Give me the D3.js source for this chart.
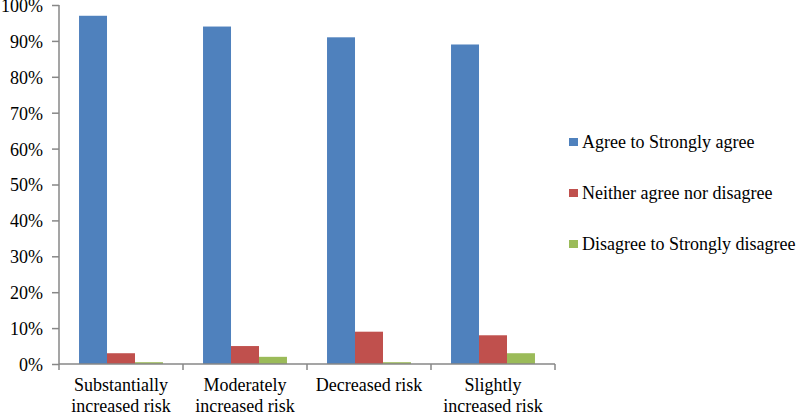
<!DOCTYPE html>
<html><head><meta charset="utf-8">
<script src="https://cdn.jsdelivr.net/npm/d3@7"></script>
</head><body style="margin:0;background:#fff"><svg id="c" width="800" height="416" style="display:block"></svg>
<script>
const categories = ["Substantially\nincreased risk","Moderately\nincreased risk","Decreased risk","Slightly\nincreased risk"];
const seriesNames = ["Agree to Strongly agree","Neither agree nor disagree","Disagree to Strongly disagree"];
const agree = [97, 94, 91, 89];
const neither = [3, 5, 9, 8];
const disagree = [0.5, 2, 0.5, 3];
const yTicks = [0,10,20,30,40,50,60,70,80,90,100];
const colors = ["#4F81BD","#C0504D","#9BBB59"];
const series = [agree, neither, disagree];

const FONT = "'Liberation Serif', serif";
const svg = d3.select("#c");
const L = 59, R = 555, T = 5, B = 364;
const x = d3.scaleBand().domain(categories).range([L, R]).paddingInner(0.323).paddingOuter(0.1615);
const xs = d3.scaleBand().domain(d3.range(series.length)).range([0, x.bandwidth()]);
const y = d3.scaleLinear().domain([0,100]).range([B, T]);

// bars
categories.forEach((c, i) => {
  series.forEach((s, j) => {
    svg.append("rect")
      .attr("x", x(c) + xs(j)).attr("width", xs.bandwidth())
      .attr("y", y(s[i])).attr("height", B - y(s[i]))
      .attr("fill", colors[j]);
  });
});

// y axis
const yAxis = d3.axisLeft(y).tickValues(yTicks).tickFormat(d => d + "%").tickSize(7).tickPadding(9);
const gy = svg.append("g").attr("transform", `translate(${L},0)`).call(yAxis);
gy.select(".domain").attr("stroke", "#878787").attr("stroke-width", 1.5).attr("d", `M0,${T}V${B}`);
gy.selectAll(".tick line").attr("stroke", "#878787").attr("stroke-width", 1.5);
gy.selectAll("text").attr("fill", "#000").attr("dy", "0.36em");

// x axis line and boundary ticks
const gx = svg.append("g");
gx.append("line").attr("x1", L).attr("x2", R).attr("y1", B).attr("y2", B).attr("stroke", "#878787").attr("stroke-width", 1.5);
const bounds = categories.map(c => x(c) - x.step() * x.paddingInner() / 2).concat([R]);
bounds.forEach(b => gx.append("line").attr("x1", b).attr("x2", b).attr("y1", B).attr("y2", B + 6).attr("stroke", "#878787").attr("stroke-width", 1.5));
categories.forEach(c => {
  const lines = c.split("\n");
  const t = gx.append("text").attr("text-anchor", "middle").attr("x", x(c) + x.bandwidth() / 2).attr("y", 391).attr("fill", "#000");
  lines.forEach((ln, k) => t.append("tspan").attr("x", x(c) + x.bandwidth() / 2).attr("dy", k === 0 ? 0 : 21).text(ln));
});

// legend
const lg = svg.append("g");
seriesNames.forEach((n, j) => {
  const cy = 142 + j * 51;
  lg.append("rect").attr("x", 569).attr("y", cy - 4).attr("width", 9).attr("height", 8).attr("fill", colors[j]);
  lg.append("text").attr("x", 582).attr("y", cy + 6).attr("fill", "#000").text(n);
});

svg.selectAll("text").attr("font-family", "Liberation Serif").attr("font-size", 18)
  .style("font-family", FONT).style("font-size", "18px");
</script></body></html>
